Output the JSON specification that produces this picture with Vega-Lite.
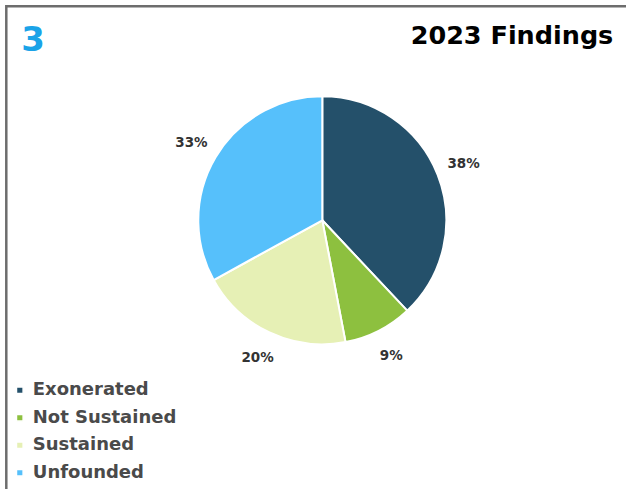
{
  "$schema": "https://vega.github.io/schema/vega-lite/v6.json",
  "autosize": {"type": "pad"},
  "padding": {"left": 4.3, "top": 4.3, "right": 0, "bottom": 0},
  "background": "white",
  "title": {"text": "3", "anchor": "start", "frame": "group", "dx": 15, "offset": -80, "fontSize": 34, "font": "DejaVu Sans", "fontWeight": "bold", "color": "#1AA3E8", "baseline": "alphabetic"},
  "vconcat": [
    {
      "width": 632,
      "height": 490,
      "view": {"stroke": "#6d6d6d", "strokeWidth": 2.5},
      "title": {"text": "2023 Findings", "anchor": "end", "frame": "group", "dx": -25, "offset": -63, "fontSize": 25.5, "font": "DejaVu Sans", "fontWeight": "bold", "color": "#000000", "baseline": "alphabetic"},
      "data": {"values": [
        {"finding": "Exonerated", "pct": 38, "label": "38%"},
        {"finding": "Not Sustained", "pct": 9, "label": "9%"},
        {"finding": "Sustained", "pct": 20, "label": "20%"},
        {"finding": "Unfounded", "pct": 33, "label": "33%"}
      ]},
      "encoding": {
        "theta": {"field": "pct", "type": "quantitative", "stack": true},
        "order": {"field": "finding", "type": "ordinal", "sort": "ascending"},
        "color": {
          "field": "finding", "type": "nominal",
          "scale": {"domain": ["Exonerated", "Not Sustained", "Sustained", "Unfounded"], "range": ["#24506A", "#8DC03F", "#E6F0B5", "#56C0FB"]},
          "legend": {"orient": "none", "legendX": 4.5, "legendY": 375, "title": null, "symbolType": "square", "symbolSize": 44, "labelFontSize": 18, "labelFont": "DejaVu Sans", "labelFontWeight": "bold", "labelColor": "#4a4a4a", "rowPadding": 9.5, "labelOffset": 4}
        }
      },
      "layer": [
        {
          "mark": {"type": "arc", "outerRadius": 124, "stroke": "white", "strokeWidth": 2, "yOffset": -31}
        },
        {
          "mark": {"type": "text", "radius": 152, "yOffset": -31, "font": "DejaVu Sans", "fontWeight": "bold", "fontSize": 13.5},
          "encoding": {
            "fill": {"value": "#333333"},
            "text": {"field": "label", "type": "nominal"}
          }
        }
      ]
    }
  ]
}
